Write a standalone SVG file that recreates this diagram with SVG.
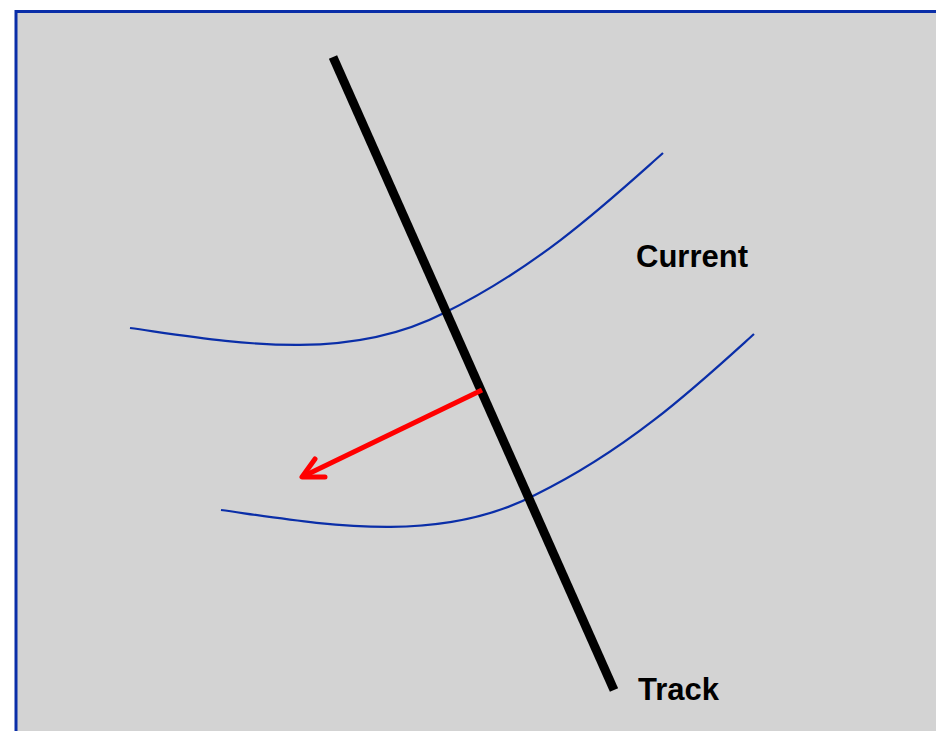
<svg xmlns="http://www.w3.org/2000/svg" width="936" height="731" viewBox="0 0 936 731">
<style>
.cur{fill:none;stroke:#0a2ea8;stroke-width:2.2}
.lbl{font-family:"Liberation Sans",Arial,sans-serif;font-weight:bold;font-size:31px;fill:#000}
</style>
<rect x="0" y="0" width="936" height="731" fill="#ffffff"/>
<rect id="frame" x="16" y="11.5" width="930" height="730" fill="#d3d3d3" stroke="#0a2ea8" stroke-width="3"/>
<g id="connectors">
<path class="cur" d="M130,328 C230,342 345,364 444,313 C540,266 610,200 663,153"/>
<path class="cur" d="M221,510 C321,524 436,546 535,495 C631,448 701,382 754,334"/>
</g>
<g id="track">
<line x1="333" y1="57" x2="614" y2="690" stroke="#000" stroke-width="9"/>
</g>
<g id="arrow">
<line x1="482" y1="390" x2="306" y2="475" stroke="#ff0000" stroke-width="5"/>
<polyline points="315,459 302,477 325,477" fill="none" stroke="#ff0000" stroke-width="5" stroke-linecap="round" stroke-linejoin="round"/>
</g>
<g id="current-label"><text class="lbl" x="636" y="267">Current</text></g>
<g id="track-label"><text class="lbl" x="638" y="700">Track</text></g>
</svg>
